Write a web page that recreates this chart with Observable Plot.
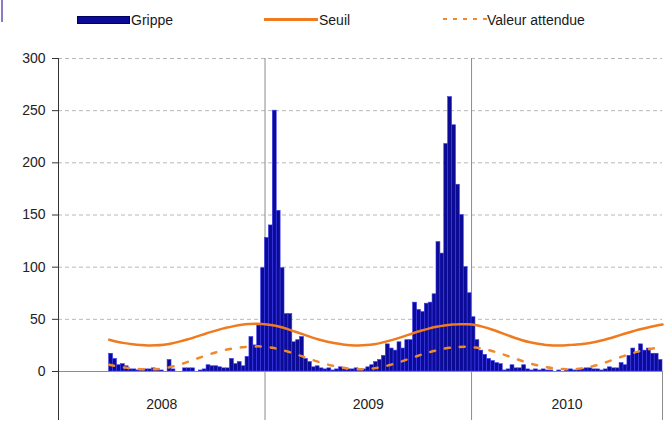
<!DOCTYPE html>
<html><head><meta charset="utf-8">
<script src="https://cdn.jsdelivr.net/npm/d3@7"></script>
<script src="https://cdn.jsdelivr.net/npm/@observablehq/plot@0.6"></script>
<style>
body{margin:0;background:#fff;font-family:"Liberation Sans",Arial,sans-serif;}
#wrap{position:relative;width:669px;height:425px;overflow:hidden;}
#legend{position:relative;width:669px;height:40px;}
#legend .t{position:absolute;top:12px;line-height:16px;font-size:14px;color:#1a1a1a;white-space:nowrap;}
#legend .sw{position:absolute;}
#mark{position:absolute;left:1px;top:0;width:2px;height:22px;background:#8f78c4;}
</style></head><body>
<div id="wrap">
  <div id="mark"></div>
  <div id="legend"></div>
  <div id="chart"></div>
</div>
<script>
// ---- data ----
const years = ["2008", "2009", "2010"];
const weeksPerYear = [53, 53, 49];
const grippe2008 = [null,null,null,null,null,null,null,null,null,null,null,null,null,
  17,12,6,7,5,2,2,1,1,2,2,3,2,1,0,11,2,0,0,3,3,3,0,1,2,6,5,5,4,3,3,12,7,9,5,14,33,25,44,99];
const grippe2009 = [128,140,250,154,99,55,55,28,30,33,12,9,4,5,3,2,3,1,2,4,3,2,2,3,2,2,4,6,9,11,
  15,26,22,20,28,22,30,30,66,59,57,65,66,74,124,113,218,263,236,179,150,100,75];
const grippe2010 = [52,30,20,16,12,10,8,7,1,2,6,3,3,6,2,1,2,1,2,1,1,0,1,0,1,2,1,2,2,3,
  3,2,2,1,2,4,3,3,8,6,15,22,18,26,20,22,17,17,11];
const yTicks = [0, 50, 100, 150, 200, 250, 300];
const lineWeeks = [13,15,17,19,21,23,25,27,29,31,33,35,37,39,41,43,45,47,49,51,53,55,57,59,61,63,65,67,69,71,
  73,75,77,79,81,83,85,87,89,91,93,95,97,99,101,103,105,107,109,111,113,115,117,119,121,123,125,127,129,131,
  133,135,137,139,141,143,145,147,149,151,153,155];
const seuil = [30.5,28.6,27.2,26.2,25.4,25.0,25.1,25.7,26.9,28.6,30.6,32.9,35.3,37.7,39.9,41.9,43.5,44.8,45.5,45.8,
  45.4,44.3,42.6,40.4,37.9,35.3,32.7,30.4,28.5,27.0,25.9,25.2,25.0,25.3,26.2,27.7,29.6,31.8,34.2,36.7,
  39.0,41.1,42.8,44.1,45.0,45.4,45.2,44.5,42.8,40.5,37.9,35.1,32.4,30.0,28.0,26.5,25.5,25.0,25.0,25.4,
  25.8,26.6,27.8,29.4,31.4,33.6,35.9,38.1,40.2,42.0,43.6,45.0];
const attendue = [6.5,5.0,3.8,2.8,2.2,2.0,2.2,3.0,4.5,6.5,9.0,11.7,14.3,16.8,19.0,20.8,22.2,23.2,23.8,24.1,
  23.8,22.7,21.0,18.9,16.5,13.9,11.3,8.9,6.8,5.0,3.6,2.6,2.1,2.2,3.0,4.4,6.2,8.4,10.9,13.5,
  16.0,18.3,20.3,21.9,23.0,23.6,23.6,23.0,21.7,19.9,17.7,15.2,12.6,10.1,7.8,5.8,4.2,3.1,2.4,2.2,
  2.5,3.4,4.9,7.0,9.5,12.2,14.8,17.2,19.3,21.0,22.3,23.2];
const legendLabels = ["Grippe", "Seuil", "Valeur attendue"];

// ---- build tables ----
const series = [grippe2008, grippe2009, grippe2010];
const bars = [];
const boundaries = [0];
let offset = 0;
series.forEach((arr, yi) => {
  arr.forEach((v, i) => { if (v != null && v > 0) bars.push({n: offset + i, v}); });
  offset += weeksPerYear[yi];
  boundaries.push(offset);
});
const yearRows = years.map((y, i) => ({year: y, mid: (boundaries[i] + boundaries[i + 1]) / 2}));
const seuilRows = lineWeeks.map((n, i) => ({n, v: seuil[i]}));
const attRows = lineWeeks.map((n, i) => ({n, v: attendue[i]}));

const blue = "#0b0b96", blueStroke = "#3a3af0", orange = "#f07a1e", orange2 = "#ee8a2c";

// ---- legend ----
const lg = document.getElementById("legend");
lg.innerHTML = `
  <div class="sw" style="left:77px;top:16px;width:51px;height:6px;background:${blue};border:1px solid #000060"></div>
  <div class="t" style="left:131px">${legendLabels[0]}</div>
  <div class="sw" style="left:264px;top:18px;width:54px;height:2.5px;background:${orange}"></div>
  <div class="t" style="left:319px">${legendLabels[1]}</div>
  <svg class="sw" style="left:443px;top:15px" width="44" height="8"><line x1="0" y1="4" x2="44" y2="4" stroke="${orange2}" stroke-width="2" stroke-dasharray="4,6"/></svg>
  <div class="t" style="left:487px">${legendLabels[2]}</div>`;

// ---- chart ----
const chart = Plot.plot({
  width: 669, height: 385,
  marginTop: 18, marginBottom: 54, marginLeft: 58, marginRight: 7,
  style: {fontFamily: "Liberation Sans, Arial, sans-serif", fontSize: "14px", color: "#222", background: "white"},
  x: {domain: [0, boundaries[boundaries.length - 1]], axis: null},
  y: {domain: [0, 300], axis: null},
  marks: [
    Plot.gridY(yTicks.filter(d => d > 0), {stroke: "#b8b8b8", strokeOpacity: 1, strokeDasharray: "4,3"}),
    Plot.ruleX(boundaries.slice(1, -1), {stroke: "#8c8c8c"}),
    Plot.rectY(bars, {x1: "n", x2: d => d.n + 1, y: "v", fill: blue, stroke: blueStroke, strokeWidth: 0.6}),
    Plot.line(seuilRows, {x: "n", y: "v", stroke: orange, strokeWidth: 2.5, curve: "natural"}),
    Plot.line(attRows, {x: "n", y: "v", stroke: orange2, strokeWidth: 2.5, strokeDasharray: "5,10", curve: "natural"}),
    Plot.ruleY([0], {stroke: "#8c8c8c"}),
    Plot.axisX(boundaries, {tickSize: 49, tickFormat: () => "", stroke: "#8c8c8c", label: null}),
    Plot.axisX([0], {tickSize: 49, tickFormat: () => "", stroke: "#333", label: null}),
    Plot.ruleX([0], {stroke: "#333"}),
    Plot.axisY(yTicks, {tickSize: 6, tickPadding: 7, stroke: "#333", fill: "#222", fontSize: 14, label: null}),
    Plot.text(yearRows, {x: "mid", text: "year", frameAnchor: "bottom", dy: 37, fontSize: 14, fill: "#222"})
  ]
});
document.getElementById("chart").appendChild(chart);
</script>
</body></html>
